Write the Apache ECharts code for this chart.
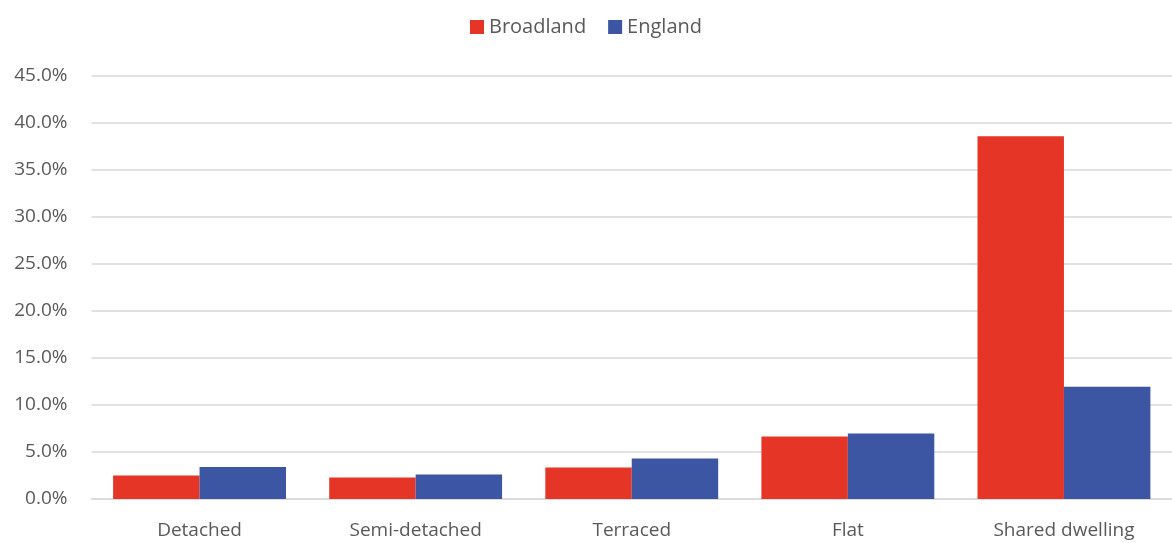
<!DOCTYPE html>
<html><head><meta charset="utf-8">
<script src="https://cdn.jsdelivr.net/npm/echarts@6/dist/echarts.min.js"></script>
<style>html,body{margin:0;padding:0;background:#fff}#c{width:1172px;height:543px}</style>
</head><body><div id="c"></div>
<script>
const categories = ["Detached", "Semi-detached", "Terraced", "Flat", "Shared dwelling"];
const broadland = [2.5, 2.3, 3.35, 6.65, 38.6];
const england = [3.4, 2.6, 4.3, 6.97, 11.95];
const seriesNames = ["Broadland", "England"];

const chart = echarts.init(document.getElementById('c'));
const font = "'Open Sans', 'Noto Sans', sans-serif";
chart.setOption({
  animation: false,
  textStyle: { fontFamily: font },
  legend: {
    top: 12, left: 'center', itemWidth: 14, itemHeight: 14, itemGap: 22,
    icon: 'rect',
    textStyle: { fontSize: 20, color: '#595959', fontFamily: font },
    data: seriesNames
  },
  grid: { left: 91.5, width: 1085, top: 76, bottom: 44, containLabel: false },
  xAxis: {
    type: 'category', data: categories,
    axisLine: { show: true, lineStyle: { color: '#d9d9d9', width: 1.5 } },
    axisTick: { show: false },
    axisLabel: { fontSize: 19, color: '#595959', margin: 22, fontFamily: font }
  },
  yAxis: {
    type: 'value', min: 0, max: 45, interval: 5,
    axisLine: { show: false }, axisTick: { show: false },
    splitLine: { lineStyle: { color: '#d9d9d9', width: 1.5 } },
    axisLabel: { fontSize: 19, color: '#595959', margin: 24, fontFamily: font,
      formatter: v => v.toFixed(1) + '%' }
  },
  series: [
    { name: seriesNames[0], type: 'bar', data: broadland, barGap: '0%', barCategoryGap: '20%',
      itemStyle: { color: '#E43526' } },
    { name: seriesNames[1], type: 'bar', data: england, barGap: '0%', barCategoryGap: '20%',
      itemStyle: { color: '#3C56A3' } }
  ]
});
</script></body></html>
